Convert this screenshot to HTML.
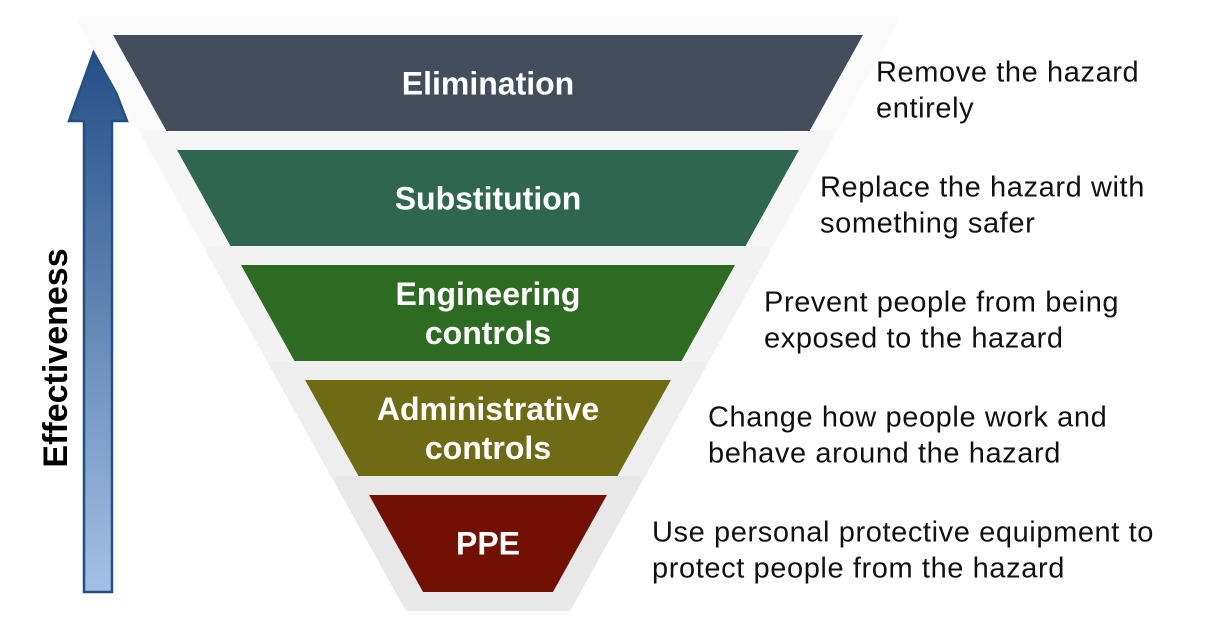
<!DOCTYPE html>
<html><head><meta charset="utf-8"><style>
body{margin:0;background:#fff;width:1213px;height:619px;overflow:hidden}
svg{display:block}
text{font-family:"Liberation Sans","DejaVu Sans",sans-serif}
</style></head><body>
<svg id="c" width="1213" height="619" viewBox="0 0 1213 619">
<defs>
<linearGradient id="ag" x1="0" y1="0" x2="0" y2="1">
<stop offset="0" stop-color="#224d84"/><stop offset="1" stop-color="#a3c1e6"/>
</linearGradient>
</defs>
<g id="arrow">
<polygon points="97,43 127,121 112,121 112,592 84,592 84,121 69,121" fill="url(#ag)" stroke="#244f86" stroke-width="2.5" stroke-linejoin="miter"/>
</g>
<text x="67" y="358" transform="rotate(-90 67 358)" text-anchor="middle" font-size="34" font-weight="bold" fill="#000">Effectiveness</text>
<g id="layers"></g>
</svg>
<script>
const labels=[["Elimination"],["Substitution"],["Engineering","controls"],["Administrative","controls"],["PPE"]];
const colors=["#434d5c","#2e6650","#2e6b22","#6e6b14","#721103"];
const backs=["#fafafa","#f6f6f6","#f2f2f2","#eeeeee","#e8e8e8"];
const descs=[["Remove the hazard","entirely"],["Replace the hazard with","something safer"],["Prevent people from being","exposed to the hazard"],["Change how people work and","behave around the hazard"],["Use personal protective equipment to","protect people from the hazard"]];
const g=document.getElementById('layers');const NS="http://www.w3.org/2000/svg";
const top0=35,step=115,h=97,slope=54/97,cx=488,topHalf0=375;
function el(t,a){const e=document.createElementNS(NS,t);for(const k in a)e.setAttribute(k,a[k]);return e;}
labels.forEach((lab,i)=>{
  const y0=top0+i*step,y1=y0+h;
  const hw0=topHalf0-i*step*slope, hw1=hw0-h*slope;
  const by0=y0-14,by1=y1+14,bhw0=hw0+22+14*slope,bhw1=hw1+22-14*slope;
  const b=el('polygon',{points:`${cx-bhw0},${by0} ${cx+bhw0},${by0} ${cx+bhw1},${by1} ${cx-bhw1},${by1}`,fill:backs[i],stroke:backs[i],'stroke-width':10,'stroke-linejoin':'round'});
  
  
  g.appendChild(b);
  const p=el('polygon',{points:`${cx-hw0},${y0} ${cx+hw0},${y0} ${cx+hw1},${y1} ${cx-hw1},${y1}`,fill:colors[i]});
  
  
  g.appendChild(p);
  const ym=y0+h/2;
  lab.forEach((s,j)=>{
    const t=el('text',{x:cx,y:ym+11+(j-(lab.length-1)/2)*39,'text-anchor':'middle','font-size':32,'font-weight':'bold',fill:'#fff'});
    t.textContent=s;
    
    
    g.appendChild(t);
  });
  const dx=876-56*i;
  descs[i].forEach((s,j)=>{
    const t=el('text',{x:dx,y:ym-2+j*36,'font-size':29,'letter-spacing':'0.6',fill:'#111'});
    t.textContent=s;
    
    
    g.appendChild(t);
  });
});
</script>
</body></html>
